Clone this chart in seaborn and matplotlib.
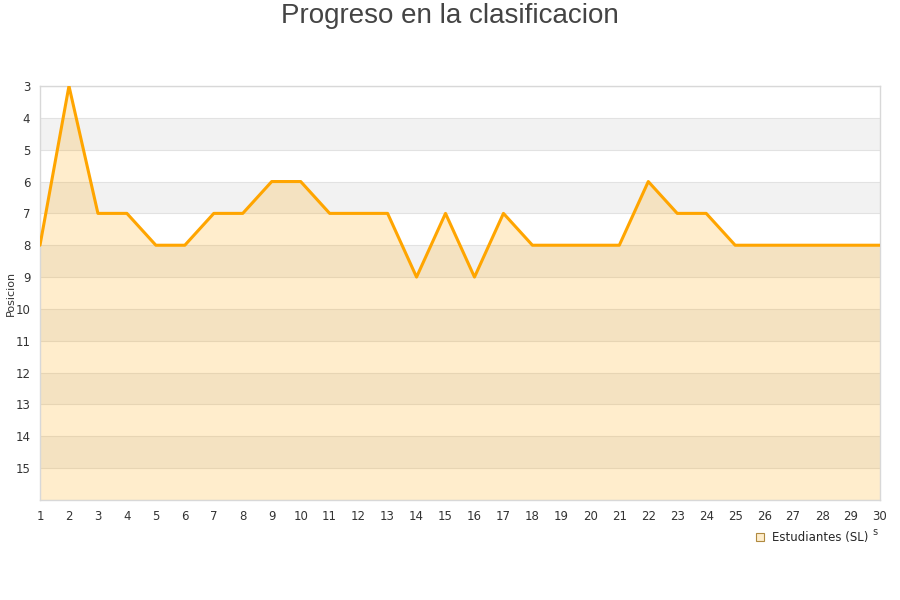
import matplotlib
matplotlib.use("Agg")
import matplotlib.pyplot as plt
import seaborn as sns
import pandas as pd
from matplotlib.lines import Line2D

jornadas = list(range(1, 31))
posiciones = [8, 3, 7, 7, 8, 8, 7, 7, 6, 6, 7, 7, 7, 9, 7, 9, 7, 8, 8, 8,
              8, 6, 7, 7, 8, 8, 8, 8, 8, 8]
y_ticks = list(range(3, 16))
serie = "Estudiantes (SL)"
titulo = "Progreso en la clasificacion"
y_label = "Posicion"

df = pd.DataFrame({"Jornada": jornadas, "Posicion": posiciones})

sns.set_style("white")
plt.rcParams['font.family'] = ['DejaVu Sans']

fig = plt.figure(figsize=(9, 6), dpi=100)
ax = fig.add_axes([40/900, 1-500/600, 840/900, 414/600])

# alternating bands
for b in range(3, 16):
    if b % 2 == 0:
        ax.axhspan(b, b+1, color="#f2f2f2", lw=0, zorder=0)
for b in range(3, 17):
    ax.axhline(b, color="#e2e2e2", lw=0.8, zorder=1)

ax.fill_between(df["Jornada"], df["Posicion"], 16, color="#ffa500", alpha=0.2, lw=0, zorder=2)
sns.lineplot(data=df, x="Jornada", y="Posicion", ax=ax, color="#ffa500", lw=2.2, zorder=3)

ax.set_xlim(1, 30)
ax.set_ylim(16, 3)
ax.set_xticks(jornadas)
ax.set_yticks(y_ticks)
ax.tick_params(axis="both", labelsize=8.5, labelcolor="#333333", length=0)
ax.tick_params(axis="y", pad=7)
ax.tick_params(axis="x", pad=7)
ax.set_xlabel("")
ax.set_ylabel(y_label, fontsize=8, color="#333333")
ax.yaxis.set_label_coords(-24/840, 0.5)
for s in ax.spines.values():
    s.set_color("#d8d8d8")
    s.set_linewidth(1)

fig.text(0.5, 1-16/600, titulo, ha="center", va="center", fontsize=20,
         color="#444444", family="Liberation Sans")

h = Line2D([], [], marker="s", ls="", markersize=6, markerfacecolor="#feedcc",
           markeredgecolor="#b08a40", markeredgewidth=0.8)
fig.legend([h], [serie], loc="center", bbox_to_anchor=(811/900, 1-538/600),
           frameon=False, fontsize=8.5, handletextpad=0.5, handlelength=1)
fig.text(875/900, 1-532/600, "s", ha="center", va="center", fontsize=7, color="#333333")

fig.savefig("out.png", dpi=100)
